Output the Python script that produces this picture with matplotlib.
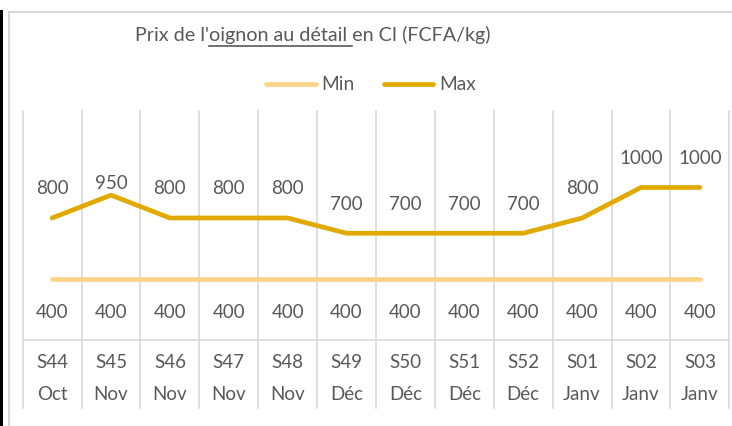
import matplotlib
matplotlib.use("Agg")
import matplotlib.pyplot as plt
from matplotlib.lines import Line2D
from matplotlib.patches import Rectangle
import numpy as np

plt.rcParams['font.family'] = ['Lato', 'DejaVu Sans']

weeks = ["S44", "S45", "S46", "S47", "S48", "S49", "S50", "S51", "S52", "S01", "S02", "S03"]
months = ["Oct", "Nov", "Nov", "Nov", "Nov", "Déc", "Déc", "Déc", "Déc", "Janv", "Janv", "Janv"]
min_vals = [400, 400, 400, 400, 400, 400, 400, 400, 400, 400, 400, 400]
max_vals = [800, 950, 800, 800, 800, 700, 700, 700, 700, 800, 1000, 1000]

title_pre = "Prix de l'"
title_ul = "oignon au détail "
title_post = "en CI (FCFA/kg)"

TXT = "#595959"
GRID = "#D9D9D9"
C_MIN = "#FFD387"
C_MAX = "#E2AA00"
FS = 13.5
FS_T = 14.2
FS_L = 13.8

W, H = 732, 426
fig = plt.figure(figsize=(W / 100, H / 100), dpi=100)

# chart border and left black edge
fig.patches.append(Rectangle((8.5 / W, -0.1), 1.2, 1 - 11.5 / H + 0.1, transform=fig.transFigure,
                             fill=False, edgecolor=GRID, linewidth=1.5))
fig.patches.append(Rectangle((0, 0), 2.5 / W, 1 - 10 / H, transform=fig.transFigure,
                             facecolor="black", edgecolor="none"))

left, right = 22.7 / W, 729.3 / W
bottom, top = 1 - 340 / H, 1 - 111.25 / H
ax = fig.add_axes([left, bottom, right - left, top - bottom])
n = len(weeks)
x = np.arange(n)
ax.set_xlim(-0.5, n - 0.5)
ax.set_ylim(0, 1500)
for s in ax.spines.values():
    s.set_visible(False)
ax.set_xticks([])
ax.set_yticks([])

plot_h = 340 - 111.25
ext = -(408 - 340) / plot_h
for b in np.arange(-0.5, n, 1.0):
    ax.plot([b, b], [ext, 1], transform=ax.get_xaxis_transform(), color=GRID,
            lw=1.2, clip_on=False, zorder=0)
ax.plot([-0.5, n - 0.5], [0, 0], transform=ax.get_xaxis_transform(), color=GRID,
        lw=1.2, clip_on=False, zorder=0)

ax.plot(x, min_vals, color=C_MIN, lw=3.4, solid_capstyle="round", solid_joinstyle="round", zorder=3)
ax.plot(x, max_vals, color=C_MAX, lw=3.4, solid_capstyle="round", solid_joinstyle="round", zorder=3)

for i, v in enumerate(max_vals):
    off = 8.5 if (i > 0 and v > max_vals[i - 1] and i < n - 1 and v > max_vals[i + 1]) else 21
    ax.annotate(f"{v}", (i, v), xytext=(0, off), textcoords="offset points",
                ha="center", va="center", fontsize=FS, color=TXT)
for i, v in enumerate(min_vals):
    ax.annotate(f"{v}", (i, v), xytext=(0, -24), textcoords="offset points",
                ha="center", va="center", fontsize=FS, color=TXT)

y_w = -(362 - 340) / plot_h
y_m = -(395 - 340) / plot_h
for i in range(n):
    ax.text(i, y_w, weeks[i], transform=ax.get_xaxis_transform(), ha="center", va="center",
            fontsize=FS, color=TXT)
    ax.text(i, y_m, months[i], transform=ax.get_xaxis_transform(), ha="center", va="center",
            fontsize=FS, color=TXT)

# title with underlined part
ty = 1 - 35 / H
tx = 135 / W
t = fig.text(tx, ty, title_pre + title_ul + title_post, ha="left", va="center",
             fontsize=FS_T, color=TXT)
r = fig.canvas.get_renderer()
tmp1 = fig.text(tx, ty, title_pre, fontsize=FS_T, ha="left", va="center")
tmp2 = fig.text(tx, ty, title_pre + title_ul, fontsize=FS_T, ha="left", va="center")
e1 = tmp1.get_window_extent(r)
e2 = tmp2.get_window_extent(r)
tmp1.remove(); tmp2.remove()
uy = 1 - 45.5 / H
fig.add_artist(Line2D([e1.x1 / W, e2.x1 / W], [uy, uy], transform=fig.transFigure,
                      color=TXT, lw=1.2))

handles = [Line2D([], [], color=C_MIN, lw=3.4, solid_capstyle="round"),
           Line2D([], [], color=C_MAX, lw=3.4, solid_capstyle="round")]
leg = fig.legend(handles, ["Min", "Max"], loc="center", bbox_to_anchor=(371 / W, 1 - 85 / H),
                 ncol=2, frameon=False, fontsize=FS_L, handlelength=2.6, handletextpad=0.3,
                 columnspacing=1.5, labelcolor=TXT)

fig.savefig("out.png", dpi=100)
